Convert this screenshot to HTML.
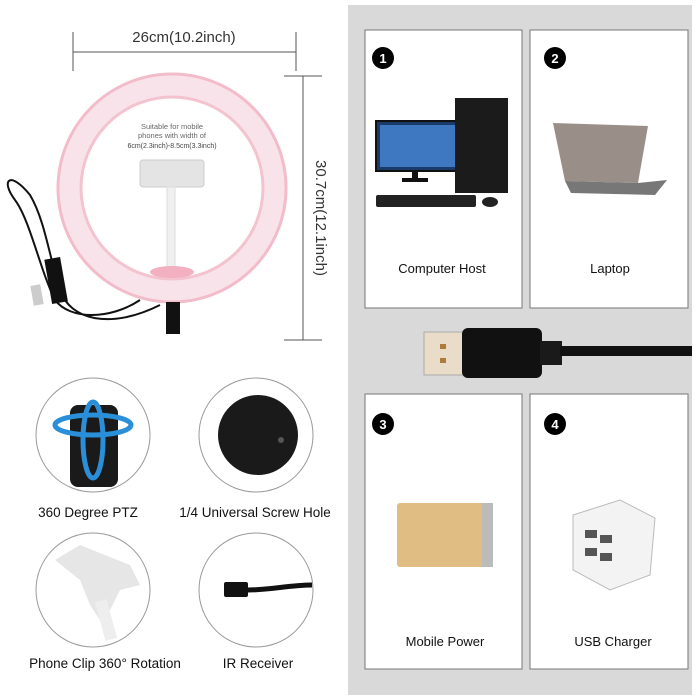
<!DOCTYPE html>
<html><head><meta charset="utf-8"><style>
body{margin:0;background:#fff;}
svg{display:block}
text{font-family:"Liberation Sans",sans-serif;}
</style></head><body>
<svg width="700" height="700" viewBox="0 0 700 700">
<rect width="700" height="700" fill="#fff"/>
<rect x="348" y="5" width="344" height="690" fill="#d9d9d9"/>
<rect x="365" y="30" width="157" height="278" fill="#fff" stroke="#777" stroke-width="1"/>
<rect x="530" y="30" width="158" height="278" fill="#fff" stroke="#777" stroke-width="1"/>
<rect x="365" y="394" width="157" height="275" fill="#fff" stroke="#777" stroke-width="1"/>
<rect x="530" y="394" width="158" height="275" fill="#fff" stroke="#777" stroke-width="1"/>
<g font-size="13" font-weight="bold" fill="#fff" text-anchor="middle">
<circle cx="383" cy="58" r="11" fill="#000"/><text x="383" y="63">1</text>
<circle cx="555" cy="58" r="11" fill="#000"/><text x="555" y="63">2</text>
<circle cx="383" cy="424" r="11" fill="#000"/><text x="383" y="429">3</text>
<circle cx="555" cy="424" r="11" fill="#000"/><text x="555" y="429">4</text>
</g>
<g font-size="13" fill="#111" text-anchor="middle">
<text x="442" y="273">Computer Host</text>
<text x="610" y="273">Laptop</text>
<text x="445" y="646">Mobile Power</text>
<text x="613" y="646">USB Charger</text>
</g>
<rect x="376" y="121" width="85" height="50" fill="#1a3a6a" stroke="#111" stroke-width="2"/>
<rect x="380" y="125" width="77" height="42" fill="#3d78c0"/>
<rect x="412" y="171" width="6" height="8" fill="#111"/><rect x="402" y="178" width="26" height="4" fill="#111"/>
<rect x="455" y="98" width="53" height="95" fill="#1b1b1b"/>
<rect x="376" y="195" width="100" height="12" rx="2" fill="#222"/>
<ellipse cx="490" cy="202" rx="8" ry="5" fill="#222"/>
<polygon points="553,123 648,126 638,183 565,181" fill="#9a8f88"/>
<polygon points="565,181 638,183 667,180 655,195 571,193" fill="#777"/>
<rect x="424" y="332" width="45" height="43" fill="#e9dcc8" stroke="#aaa"/>
<rect x="440" y="344" width="6" height="5" fill="#b07a3a"/><rect x="440" y="358" width="6" height="5" fill="#b07a3a"/>
<rect x="462" y="328" width="80" height="50" rx="6" fill="#111"/>
<rect x="540" y="341" width="22" height="24" fill="#1a1a1a"/>
<rect x="560" y="346" width="132" height="10" fill="#111"/>
<rect x="397" y="503" width="96" height="64" rx="3" fill="#e0bd82"/>
<rect x="482" y="503" width="11" height="64" fill="#bbb"/>
<polygon points="573,515 620,500 655,518 650,575 610,590 573,570" fill="#f3f3f3" stroke="#bbb"/>
<rect x="585" y="530" width="12" height="8" fill="#555"/><rect x="600" y="535" width="12" height="8" fill="#555"/>
<rect x="585" y="548" width="12" height="8" fill="#555"/><rect x="600" y="553" width="12" height="8" fill="#555"/>

<line x1="73" y1="52" x2="296" y2="52" stroke="#555" stroke-width="1"/>
<line x1="73" y1="32" x2="73" y2="71" stroke="#555"/>
<line x1="296" y1="32" x2="296" y2="71" stroke="#555"/>
<text x="184" y="42" font-size="15" fill="#333" text-anchor="middle">26cm(10.2inch)</text>
<line x1="303" y1="76" x2="303" y2="340" stroke="#555"/>
<line x1="284" y1="76" x2="322" y2="76" stroke="#555"/>
<line x1="284" y1="340" x2="322" y2="340" stroke="#555"/>
<text transform="translate(316,218) rotate(90)" font-size="15" fill="#333" text-anchor="middle">30.7cm(12.1inch)</text>
<circle cx="172" cy="188" r="103" fill="none" stroke="#f9e3ea" stroke-width="24"/>
<circle cx="172" cy="188" r="114" fill="none" stroke="#f3bccb" stroke-width="3"/>
<circle cx="172" cy="188" r="91" fill="none" stroke="#f3c3cf" stroke-width="3"/>
<text x="172" y="129" font-size="7.5" fill="#666" text-anchor="middle">Suitable for mobile</text>
<text x="172" y="138" font-size="7.5" fill="#666" text-anchor="middle">phones with width of</text>
<text x="172" y="148" font-size="7" fill="#444" text-anchor="middle">6cm(2.3inch)-8.5cm(3.3inch)</text>
<rect x="140" y="160" width="64" height="27" rx="3" fill="#e4e4e4" stroke="#ccc"/>
<rect x="167" y="187" width="8" height="85" fill="#f0f0f0" stroke="#ddd"/>
<ellipse cx="172" cy="272" rx="22" ry="6" fill="#f2b0c0"/>
<rect x="166" y="302" width="14" height="32" fill="#111"/>
<path d="M140,300 C110,320 70,320 55,300 C40,270 30,220 15,200 C0,180 10,170 30,195 C45,220 50,260 60,290 C70,320 110,330 160,305" fill="none" stroke="#111" stroke-width="2"/>
<rect x="48" y="258" width="16" height="45" fill="#111" transform="rotate(-10 56 280)"/>
<rect x="32" y="285" width="10" height="20" fill="#ccc" transform="rotate(-10 37 295)"/>
<g fill="#fff" stroke="#999" stroke-width="1">
<circle cx="93" cy="435" r="57"/><circle cx="256" cy="435" r="57"/>
<circle cx="93" cy="590" r="57"/><circle cx="256" cy="590" r="57"/>
</g>
<rect x="70" y="405" width="48" height="82" rx="8" fill="#1a1a1a"/>
<ellipse cx="93" cy="425" rx="38" ry="10" fill="none" stroke="#2a8fd8" stroke-width="5"/>
<ellipse cx="93" cy="440" rx="10" ry="38" fill="none" stroke="#2a8fd8" stroke-width="5"/>
<circle cx="258" cy="435" r="40" fill="#1a1a1a"/>
<circle cx="281" cy="440" r="3" fill="#555"/>
<polygon points="55,560 80,545 130,565 140,585 120,590 110,610 100,620 90,605 80,580" fill="#e6e6e6"/>
<rect x="100" y="600" width="12" height="40" fill="#eee" transform="rotate(-15 106 620)"/>
<rect x="224" y="582" width="24" height="15" rx="2" fill="#111"/>
<path d="M248,590 C270,590 290,585 312,585" stroke="#111" stroke-width="5" fill="none"/>
<g font-size="13.5" fill="#111" text-anchor="middle">
<text x="88" y="517">360 Degree PTZ</text>
<text x="255" y="517">1/4 Universal Screw Hole</text>
<text x="105" y="668">Phone Clip 360° Rotation</text>
<text x="258" y="668">IR Receiver</text>
</g>
</svg>
</body></html>
